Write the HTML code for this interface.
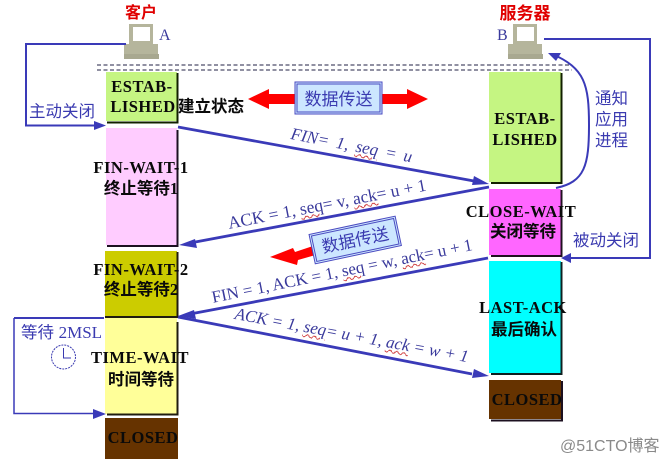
<!DOCTYPE html>
<html><head><meta charset="utf-8">
<style>
html,body{margin:0;padding:0;background:#fff;width:668px;height:463px;overflow:hidden;position:relative}
svg{display:block}
.b{font-family:"Liberation Serif","Noto Serif CJK SC",serif;font-weight:bold;font-size:16.5px;letter-spacing:.5px;fill:#0a0a0a;text-anchor:middle}
.c{font-family:"Liberation Sans","Noto Sans CJK SC",sans-serif;font-size:16.5px;fill:#3a3ab0}
.n{font-family:"Liberation Serif",serif;font-size:16px;fill:#3a3a9c}
.r{font-family:"Noto Sans CJK SC",sans-serif;font-weight:bold;fill:#e00000;text-anchor:middle}
.z{font-family:"Liberation Serif","Noto Sans CJK SC",sans-serif;font-weight:bold;font-size:16.5px;fill:#0a0a0a;text-anchor:middle}
.l{position:absolute;line-height:0;white-space:nowrap;transform-origin:0 0;font-family:"Liberation Serif",serif;font-size:17px;color:#3a3a9c}
.l i{font-style:inherit;text-decoration:underline wavy #d04040 1px}
</style></head><body>
<svg width="668" height="463" viewBox="0 0 668 463" xmlns="http://www.w3.org/2000/svg">
<defs>
<g id="pc">
<rect x="5" y="0" width="24" height="20" fill="#b5b59c"/>
<rect x="9" y="3" width="17" height="14" fill="#fff"/>
<rect x="0" y="20" width="34" height="10" fill="#b5b59c"/>
<rect x="0" y="30" width="35" height="5" fill="#a8a890"/>
</g>
</defs>
<!-- dashed lines -->
<path d="M97 65H572M97 70H572" stroke="#222244" stroke-width="1" stroke-dasharray="4 2.5" fill="none"/>

<!-- left boxes -->
<rect x="106" y="72" width="71" height="49" fill="#c5f582"/>
<path d="M177.500 73V122.500H107" stroke="#122000" stroke-width="2" fill="none"/>
<rect x="106" y="128" width="71" height="117" fill="#ffccff"/>
<path d="M177.500 130V246H107" stroke="#1c1020" stroke-width="2" fill="none"/>
<rect x="105" y="251" width="72" height="65" fill="#cccc00"/>
<path d="M177.500 252V317H105" stroke="#201c10" stroke-width="2" fill="none"/>
<rect x="105" y="318" width="72" height="96" fill="#ffff99"/>
<path d="M177.500 322V414.500H107" stroke="#201c10" stroke-width="2" fill="none"/>
<rect x="105" y="418" width="73" height="41" fill="#663300"/>

<!-- right boxes -->
<rect x="489" y="72" width="72" height="110" fill="#c5f582"/>
<path d="M561.500 73V183H491" stroke="#122000" stroke-width="2" fill="none"/>
<rect x="489" y="189" width="72" height="66" fill="#ff66ff"/>
<path d="M561.500 190V256H491" stroke="#201020" stroke-width="2" fill="none"/>
<rect x="489" y="261" width="72" height="112" fill="#00ffff"/>
<path d="M561.500 262V374H491" stroke="#102020" stroke-width="2" fill="none"/>
<rect x="489" y="380" width="72" height="39" fill="#663300"/>
<path d="M562 381V420.500H491" stroke="#1c1020" stroke-width="2" fill="none"/>

<!-- computers -->
<use href="#pc" x="124" y="24"/>
<use href="#pc" x="508" y="24"/>

<!-- blue connectors -->
<g fill="none" stroke="#3a3ab8">
<path d="M126 44H26V125.500H96" stroke-width="2"/>
<path d="M544 39H650V258H568" stroke-width="2"/>
<path d="M14 318V413.500H96" stroke-width="1.500"/>
<path d="M14 318H104" stroke-width="2"/>
<path d="M556 188C585 182 589 165 589 125C589 85 585 68 552 54" stroke-width="2"/>
<path d="M178 127L474 181" stroke-width="2.800"/>
<path d="M489 187L190 243" stroke-width="2.800"/>
<path d="M488 258L190 314" stroke-width="2.800"/>
<path d="M178 317L472 374" stroke-width="2.800"/>
</g>
<g fill="#3a3ab8">
<path d="M106 125.500L94 121V130Z"/>
<path d="M106 414L93 409V419Z"/>
<path d="M561 258L571 253V263Z"/>
<path d="M548 53L561 53L556 61Z"/>
<path d="M489 184L474 176L472 185Z"/>
<path d="M179 245L195 239L197 248Z"/>
<path d="M178 316L194 310L196 319Z"/>
<path d="M489 376L474 369L472 378Z"/>
</g>

<!-- red arrows -->
<path d="M248 99L269 89V94H300V104H269V109Z" fill="#ff0000"/>
<path d="M428 99L407 89V94H380V104H407V109Z" fill="#ff0000"/>
<path d="M270 257L293 248L295 252L316 245L319 254L298 260L297 265Z" fill="#ff0000"/>

<!-- data boxes -->
<rect x="295" y="82" width="87" height="32" fill="#cce6ff" stroke="#4a4ac0" stroke-width="1"/>
<rect x="297" y="84" width="83" height="28" fill="none" stroke="#4a4ac0" stroke-width="1"/>
<text class="c" x="338.500" y="105" style="font-size:17px;text-anchor:middle">数据传送</text>
<g transform="rotate(-12 355 239)">
<rect x="311" y="225" width="88" height="30" fill="#cce6ff" stroke="#4a4ac0" stroke-width="1"/>
<rect x="313" y="227" width="84" height="26" fill="none" stroke="#4a4ac0" stroke-width="1"/>
<text class="c" x="355" y="246" style="font-size:17px;text-anchor:middle">数据传送</text>
</g>

<!-- titles -->
<text class="r" x="141" y="18" style="font-size:16px">客户</text>
<text class="r" x="525" y="19" style="font-size:17px">服务器</text>
<text class="n" x="159" y="40">A</text>
<text class="n" x="497" y="40">B</text>

<!-- side labels -->
<text class="c" x="29" y="117">主动关闭</text>
<text class="c" x="595" y="104">通知</text>
<text class="c" x="595" y="125">应用</text>
<text class="c" x="595" y="146">进程</text>
<text class="c" x="573" y="246">被动关闭</text>
<text class="c" x="21" y="338">等待 <tspan style="font-family:'Liberation Serif',serif;font-size:17px">2MSL</tspan></text>

<!-- clock -->
<circle cx="63.500" cy="357" r="12" fill="#fff" stroke="#3a3ab0" stroke-width="1" stroke-dasharray="2 1"/>
<path d="M63.500 348V358H71" stroke="#3a3ab0" stroke-width="1" fill="none"/>

<!-- state labels -->
<text class="b" x="142" y="92">ESTAB-</text>
<text class="b" x="143" y="112">LISHED</text>
<text class="z" x="211" y="112">建立状态</text>
<text class="b" x="141" y="173">FIN-WAIT-1</text>
<text class="z" x="141" y="194">终止等待1</text>
<text class="b" x="141" y="275">FIN-WAIT-2</text>
<text class="z" x="141" y="295">终止等待2</text>
<text class="b" x="140" y="363">TIME-WAIT</text>
<text class="z" x="141" y="385">时间等待</text>
<text class="b" x="143" y="443">CLOSED</text>
<text class="b" x="525" y="124">ESTAB-</text>
<text class="b" x="525" y="145">LISHED</text>
<text class="b" x="521" y="217">CLOSE-WAIT</text>
<text class="z" x="523" y="237">关闭等待</text>
<text class="b" x="523" y="313">LAST-ACK</text>
<text class="z" x="524" y="335">最后确认</text>
<text class="b" x="527" y="405">CLOSED</text>

<!-- watermark -->
<text x="560" y="451" style="font-family:'Liberation Sans','Noto Sans CJK SC',sans-serif;font-size:16px;fill:#8a8a8a">@51CTO博客</text>
</svg>

<!-- message labels -->
<div class="l" style="left:291px;top:134px;transform:rotate(11deg);font-style:italic;word-spacing:3px">FIN= 1, <i>seq</i> = u</div>
<div class="l" style="left:228px;top:223px;transform:rotate(-11deg);font-size:17.500px">ACK = 1, <i>seq</i>= v, <i>ack</i>= u + 1</div>
<div class="l" style="left:212px;top:298px;transform:rotate(-11.500deg)">FIN = 1, ACK = 1, <i>seq</i> = w, <i>ack</i>= u + 1</div>
<div class="l" style="left:235px;top:314px;transform:rotate(10.500deg);font-style:italic">ACK = 1, <i>seq</i>= u + 1, <i>ack</i> = w + 1</div>
</body></html>
